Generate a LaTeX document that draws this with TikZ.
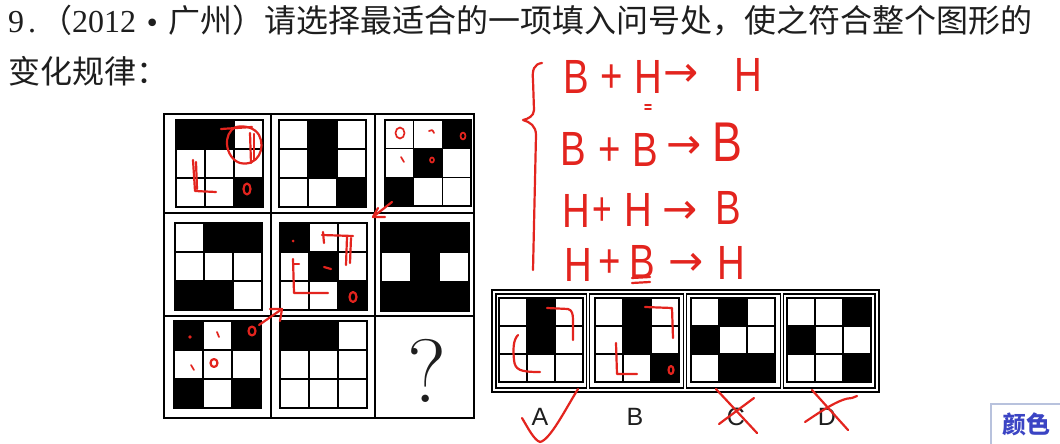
\documentclass[tikz,border=0pt]{standalone}
\usepackage{fontspec}
\usetikzlibrary{arrows.meta}
\newfontfamily\cjk{Noto Sans CJK SC}
\newfontfamily\dig{Liberation Serif}
\newfontfamily\dv{DejaVu Sans}
\newfontfamily\hand{Liberation Sans}
\definecolor{ink}{HTML}{E3241E}
\definecolor{txt}{HTML}{1E1E1E}
\definecolor{tagc}{HTML}{3B44C4}
\definecolor{tagb}{HTML}{B8C2DD}
\newcommand\hwd[1]{\makebox[0.5em][c]{#1}}
\newcommand\fwd[1]{\makebox[1em][c]{#1}}
\newcommand\sq[1]{\scalebox{0.8}[1]{#1}}
\newcommand\gridpanel[4]{%
  \pgfmathsetmacro\pcs{#3/3}
  \foreach \rr/\cc in {#4}{\fill[black] ({#1+(\cc-1)*\pcs},{#2+(\rr-1)*\pcs}) rectangle ++(\pcs,\pcs);}
  \foreach \kk in {1,2}{\draw[gline] ({#1+\kk*\pcs},#2) -- ++(0,#3); \draw[gline] (#1,{#2+\kk*\pcs}) -- ++(#3,0);}
  \draw[pframe] (#1,#2) rectangle ++(#3,#3);
}
\tikzset{
  gline/.style={black, line width=1.6pt},
  pframe/.style={black, line width=2.4pt},
  mframe/.style={black, line width=1.8pt},
  oframe/.style={black, line width=1.5pt},
  inkst/.style={draw=ink, line width=2.2pt, line cap=round, line join=round},
  inkthin/.style={draw=ink, line width=1.7pt, line cap=round, line join=round},
  hnd/.style={text=ink, inner sep=0pt, font=\hand\fontsize{48}{48}\selectfont},
  harr/.style={text=ink, inner sep=0pt, font=\dv\fontsize{42}{42}\selectfont},
  ttl/.style={text=txt, inner sep=0pt, anchor=base west, font=\cjk\fontsize{32}{32}\selectfont},
  lbl/.style={text=txt, inner sep=0pt, font=\hand\fontsize{25}{25}\selectfont},
}
\begin{document}
\begin{tikzpicture}[x=1pt,y=-1pt]
\fill[white] (0,0) rectangle (1060,444);
\useasboundingbox (0,0) rectangle (1060,444);

% title
\node[ttl] (t1) at (8,33) {{\dig\hwd{9}\hwd{.}}（{\dig\hwd{2}\hwd{0}\hwd{1}\hwd{2}}\fwd{\dv\fontsize{26}{26}\selectfont •}广州）请选择最适合的一项填入问号处，使之符合整个图形的};
\node[ttl] (t2) at (8,84) {变化规律：};

% main 3x3 frame
\draw[mframe] (164,114) rectangle (474,418);
\draw[mframe] (271,114) -- (271,418);
\draw[mframe] (375,114) -- (375,418);
\draw[mframe] (164,213) -- (474,213);
\draw[mframe] (164,316) -- (474,316);

\gridpanel{176}{120}{87}{1/1,1/2,3/3}
\gridpanel{279}{120}{87}{1/2,2/2,3/3}
\gridpanel{385}{120}{86}{1/3,2/2,3/1}
\gridpanel{175}{223}{87}{1/2,1/3,3/1,3/2}
\gridpanel{280}{223}{87}{1/1,2/2,3/3}
\gridpanel{381}{223}{88}{1/1,1/2,1/3,2/2,3/1,3/2,3/3}
\gridpanel{174}{321}{87}{1/1,1/3,3/1,3/3}
\gridpanel{280}{321}{87}{1/1,1/2}
\node[inner sep=0pt, font=\fontsize{90}{90}\selectfont, text=txt] (qm) at (427,371) {?};

% options
\draw[oframe] (492,290) rectangle (879,392);
\draw[oframe] (496,294) rectangle (586.5,388);
\draw[oframe] (589.5,294) rectangle (683.5,388);
\draw[oframe] (686.5,294) rectangle (780.5,388);
\draw[oframe] (783.5,294) rectangle (875,388);
\gridpanel{499}{298}{84}{1/2,2/2}
\gridpanel{595}{298}{84}{1/2,2/2,3/3}
\gridpanel{691}{298}{84}{1/2,2/1,3/2,3/3}
\gridpanel{787}{298}{84}{1/3,2/1,3/3}
\node[lbl] (la) at (540,417) {A};
\node[lbl] (lb) at (635,417) {B};
\node[lbl] (lc) at (736,417) {C};
\node[lbl] (ld) at (827,417) {D};

% tag
\draw[tagb, fill=white, line width=1.2pt] (991,404) rectangle (1070,450);
\node[inner sep=0pt, text=tagc, font=\cjk\bfseries\fontsize{24}{24}\selectfont] (tag) at (1026,424) {颜色};

% handwritten equations
\draw[inkst] (542,63) .. controls (534,64) and (532,70) .. (533,80) -- (534,110) .. controls (534,116) and (528,119) .. (523,120) .. controls (530,122) and (536,126) .. (536,135) -- (533,270);
\node[hnd] (e1a) at (576,77) {\sq{B}};
\node[hnd] (e1b) at (612,79) {\sq{+}};
\node[hnd] (e1c) at (648,77) {\sq{H}};
\node[harr] (e1d) at (681,75) {→};
\node[hnd] (e1e) at (748,75) {\sq{H}};
\draw[inkthin] (645,105) -- (651,105);
\draw[inkthin] (645,109) -- (651,109);
\node[hnd] (e2a) at (573,149) {\sq{B}};
\node[hnd] (e2b) at (610,152) {\sq{+}};
\node[hnd] (e2c) at (645,150) {\sq{B}};
\node[harr] (e2d) at (684,147) {→};
\node[hnd, font=\hand\fontsize{56}{56}\selectfont] (e3x) at (727,142) {\sq{B}};
\node[hnd] (e3a) at (576,211) {\sq{H}};
\node[hnd] (e3p) at (602,212) {\scalebox{0.7}[1]{+}};
\node[hnd] (e3b) at (638,210) {\sq{H}};
\node[harr] (e3c) at (680,212) {→};
\node[hnd] (e3d) at (728,208) {\sq{B}};
\node[hnd] (e4a) at (578,265) {\sq{H}};
\node[hnd] (e4b) at (610,264) {\sq{+}};
\node[hnd] (e4c) at (642,262) {\sq{B}};
\node[harr] (e4d) at (686,264) {→};
\node[hnd] (e4e) at (731,263) {\sq{H}};
\draw[inkst] (632,278) -- (650,277);
\draw[inkst] (632,283) -- (650,282);

% cell (1,1) marks
\draw[inkst] (221,129) -- (252,127);
\draw[inkst] (236,127) .. controls (222,133) and (225,158) .. (240,163) .. controls (258,167) and (266,148) .. (259,135) .. controls (255,128) and (245,125) .. (236,127);
\draw[inkst] (250,133) -- (251,163);
\draw[inkst] (254,134) -- (254,160);
\draw[inkst] (193,160) -- (195,191) -- (216,192);
\draw[inkst] (196,162) -- (197,189);
\draw[inkst] (247,189) ellipse [x radius=3.5, y radius=5.5];
% cell (1,3) marks
\draw[inkthin] (400,133) ellipse [x radius=4.5, y radius=5.5];
\draw[inkthin] (429,131) .. controls (431,129) and (433,130) .. (434,133);
\draw[inkthin] (463,136) ellipse [x radius=2.5, y radius=3.5];
\draw[inkthin] (401,157) -- (404,162);
\draw[inkthin] (432,160) ellipse [x radius=2, y radius=2.5];
\draw[inkst] (392,202) -- (373,217);
\draw[inkst] (378,208) -- (373,217) -- (385,217);
% cell (2,2) marks
\fill[ink] (293,241) circle (1.5);
\draw[inkst] (322,235) -- (353,236);
\draw[inkst] (323,232) -- (324,243);
\draw[inkst] (347,237) -- (346,265);
\draw[inkst] (351,238) -- (350,263);
\draw[inkst] (293,259) -- (294,293) -- (328,293);
\draw[inkst] (293,264) -- (299,264);
\draw[inkst] (324,267) -- (331,269);
\draw[inkst] (353,297) ellipse [x radius=3.5, y radius=5];
\draw[inkst] (259,325) -- (282,309);
\draw[inkst] (270,309) -- (282,309) -- (280,321);
% cell (3,1) marks
\fill[ink] (190,337) circle (1.8);
\draw[inkthin] (217,332) -- (219,337);
\draw[inkst] (252,331) ellipse [x radius=3.5, y radius=4.5];
\draw[inkthin] (191,365) -- (194,370);
\draw[inkst] (214,363) ellipse [x radius=3.5, y radius=4];
% options marks
\draw[inkst] (547,308) -- (568,309) .. controls (572,310) and (573,314) .. (573,320) -- (573,340);
\draw[inkst] (518,335) .. controls (513,340) and (513,350) .. (514,360) .. controls (515,370) and (520,372) .. (540,372);
\draw[inkst] (645,307) -- (672,308) -- (673,338);
\draw[inkst] (616,343) -- (617,374) -- (637,374);
\draw[inkst] (671,370) ellipse [x radius=2.5, y radius=4];
\draw[inkst] (522,418) .. controls (528,428) and (534,440) .. (540,442) .. controls (550,440) and (565,410) .. (578,389);
\draw[inkst] (716,389) -- (757,433);
\draw[inkst] (719,424) -- (754,398);
\draw[inkst] (812,390) -- (848,430);
\draw[inkst] (805,422) .. controls (820,412) and (840,398) .. (852,398) -- (857,396);
\end{tikzpicture}
\end{document}
